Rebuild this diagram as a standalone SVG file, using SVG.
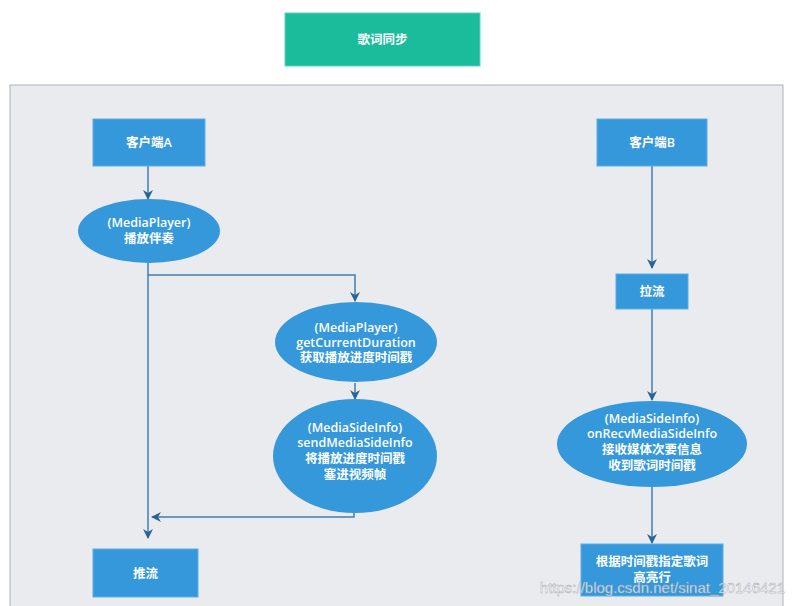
<svg xmlns="http://www.w3.org/2000/svg" width="792" height="606" viewBox="0 0 792 606">
<defs>
<style>
.box{fill:#3498db;stroke:#5aaee6;stroke-width:1}
.ell{fill:#3498db}
.t{font-family:"Open Sans","Noto Sans CJK SC",sans-serif;font-size:12.5px;font-weight:600;fill:#ffffff;text-anchor:middle}
.c{fill:none;stroke:#3f7fb3;stroke-width:1.5}
</style>
<marker id="ah" viewBox="0 0 10 10" refX="9" refY="5" markerWidth="10" markerHeight="10" markerUnits="userSpaceOnUse" orient="auto">
<path d="M0,0 L10,5 L0,10 L3,5 z" fill="#2a6496"/>
</marker>
</defs>
<rect width="792" height="606" fill="#ffffff"/>
<g id="title">
<rect x="285" y="13" width="195" height="53" fill="#1abc9c" stroke="#5fd3bc"/>
<text class="t" x="382.5" y="44" font-size="14">歌词同步</text>
</g>
<rect id="container" x="10" y="85" width="773" height="530" fill="#eaebef" stroke="#a9b3be" stroke-width="1"/>
<g id="connectors">
<path class="c" d="M148,166 V199" marker-end="url(#ah)"/>
<path class="c" d="M148,263 V538" marker-end="url(#ah)"/>
<path class="c" d="M148,275 H355 V301" marker-end="url(#ah)"/>
<path class="c" d="M355,383 V399" marker-end="url(#ah)"/>
<path class="c" d="M354,508 V517 H152" marker-end="url(#ah)"/>
<path class="c" d="M652,166 V268" marker-end="url(#ah)"/>
<path class="c" d="M652,309 V400" marker-end="url(#ah)"/>
<path class="c" d="M652,487 V543" marker-end="url(#ah)"/>
</g>
<g id="clientA">
<rect class="box" x="93" y="119" width="112" height="47"/>
<text class="t" x="149" y="147">客户端A</text>
</g>
<g id="playAccompaniment">
<ellipse class="ell" cx="149" cy="231" rx="71" ry="32"/>
<text class="t" x="149" y="227">(MediaPlayer)</text>
<text class="t" x="149" y="243">播放伴奏</text>
</g>
<g id="getDuration">
<ellipse class="ell" cx="356" cy="342" rx="81" ry="40"/>
<text class="t" x="356" y="332">(MediaPlayer)</text>
<text class="t" x="356" y="347">getCurrentDuration</text>
<text class="t" x="356" y="362">获取播放进度时间戳</text>
</g>
<g id="sendSideInfo">
<ellipse class="ell" cx="355" cy="456" rx="82" ry="57"/>
<text class="t" x="355" y="432">(MediaSideInfo)</text>
<text class="t" x="355" y="447">sendMediaSideInfo</text>
<text class="t" x="355" y="463">将播放进度时间戳</text>
<text class="t" x="355" y="479">塞进视频帧</text>
</g>
<g id="push">
<rect class="box" x="93" y="549" width="105" height="48"/>
<text class="t" x="145.5" y="578">推流</text>
</g>
<g id="clientB">
<rect class="box" x="597" y="119" width="110" height="47"/>
<text class="t" x="652" y="147">客户端B</text>
</g>
<g id="pull">
<rect class="box" x="616" y="274" width="72" height="35"/>
<text class="t" x="652" y="296">拉流</text>
</g>
<g id="recvSideInfo">
<ellipse class="ell" cx="652" cy="444" rx="95" ry="43"/>
<text class="t" x="652" y="423">(MediaSideInfo)</text>
<text class="t" x="652" y="438">onRecvMediaSideInfo</text>
<text class="t" x="652" y="454">接收媒体次要信息</text>
<text class="t" x="652" y="470">收到歌词时间戳</text>
</g>
<g id="highlight">
<rect class="box" x="581" y="544" width="142" height="52"/>
<text class="t" x="652" y="566">根据时间戳指定歌词</text>
<text class="t" x="652" y="582">高亮行</text>
</g>
<text x="785" y="593" font-family="Liberation Sans,sans-serif" font-size="15" fill="#ffffff" fill-opacity="0.8" stroke="#9aa0a8" stroke-width="0.4" text-anchor="end">https://blog.csdn.net/sinat_20146421</text>
</svg>
